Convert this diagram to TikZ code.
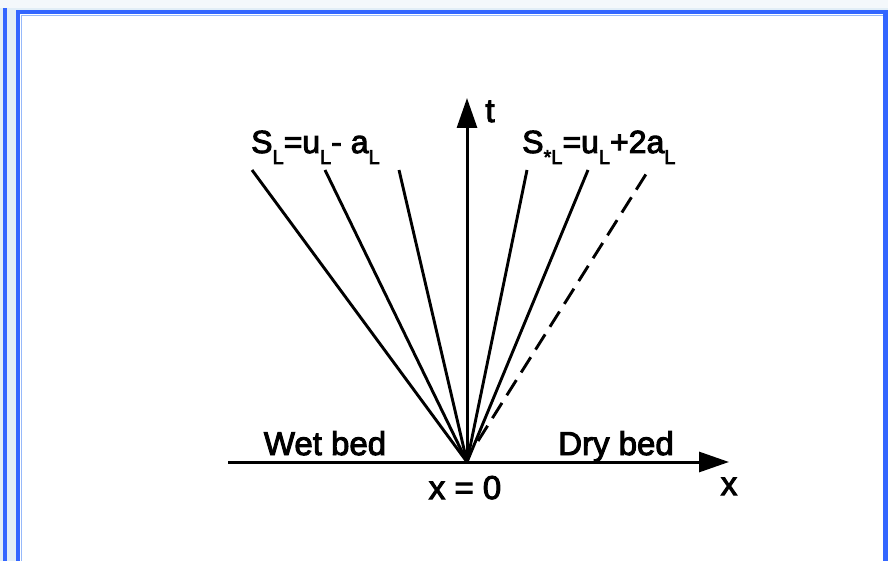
\documentclass[tikz,border=0pt]{standalone}
\usepackage{fontspec}
\setmainfont{Liberation Sans}
\newfontfamily\heavysans{Liberation Sans}[FakeBold=3]
\usetikzlibrary{arrows.meta}
\definecolor{frameblue}{RGB}{51,102,255}
\definecolor{paleblue}{RGB}{150,185,250}
\definecolor{bgblue}{RGB}{226,238,246}
\newcommand{\sbL}[1]{\raisebox{-11pt}{\fontsize{20}{20}\selectfont #1}}
\tikzset{
  wave/.style={line width=2.9pt},
  axis/.style={line width=3pt,-{Triangle[length=30pt,width=20pt]}},
  lbl/.style={font=\heavysans\fontsize{33}{33}\selectfont,anchor=base,inner sep=0pt},
  biglbl/.style={font=\heavysans\fontsize{32}{32}\selectfont,anchor=base,inner sep=0pt}
}
\begin{document}
\begin{tikzpicture}[x=1pt,y=-1pt]
\useasboundingbox (0,0) rectangle (888,561);
% background
\fill[bgblue] (0,0) rectangle (888,561);
\fill[white!60!bgblue] (0,0) rectangle (888,8);
% left bar
\fill[frameblue] (3,8) rectangle (7,561);
% main frame
\fill[white] (16,10) rectangle (888,561);
\draw[paleblue,line width=1.5pt] (21.5,15.5) -- (21.5,561);
\draw[paleblue,line width=1.5pt] (21.5,15.5) -- (883,15.5);
\draw[frameblue,line width=4.5pt] (18,561) -- (18,12) -- (885.5,12) -- (885.5,561);
% axes
\coordinate (O) at (467,462);
\coordinate (xs) at (228,462);
\coordinate (xe) at (729,462);
\coordinate (te) at (467,98);
\draw[axis] (xs) -- (xe);
\draw[axis] (O) -- (te);
% wave lines
\coordinate (l1) at (252,170);
\coordinate (l2) at (325,170);
\coordinate (l3) at (399,170);
\coordinate (r1) at (527,170);
\coordinate (r2) at (588,170);
\coordinate (r3) at (648,171);
\coordinate (d0) at (478,441);
\draw[wave] (O) -- (l1);
\draw[wave] (O) -- (l2);
\draw[wave] (O) -- (l3);
\draw[wave] (O) -- (r1);
\draw[wave] (O) -- (r2);
\draw[wave,dash pattern=on 18pt off 9pt] (d0) -- (r3);
% labels
\node[lbl] (tl) at (490,122) {t};
\node[lbl] (xl) at (729,495) {x};
\node[lbl] (x0) at (465,499) {x = 0};
\node[lbl] (wet) at (325,455) {Wet bed};
\node[lbl] (dry) at (616,455) {Dry bed};
\node[biglbl,anchor=base west] (sl) at (251,153) {S\sbL{L}=u\sbL{L}- a\sbL{L}};
\node[biglbl,anchor=base west] (sstar) at (522,153) {S\sbL{*L}=u\sbL{L}+2a\sbL{L}};
\end{tikzpicture}
\end{document}
